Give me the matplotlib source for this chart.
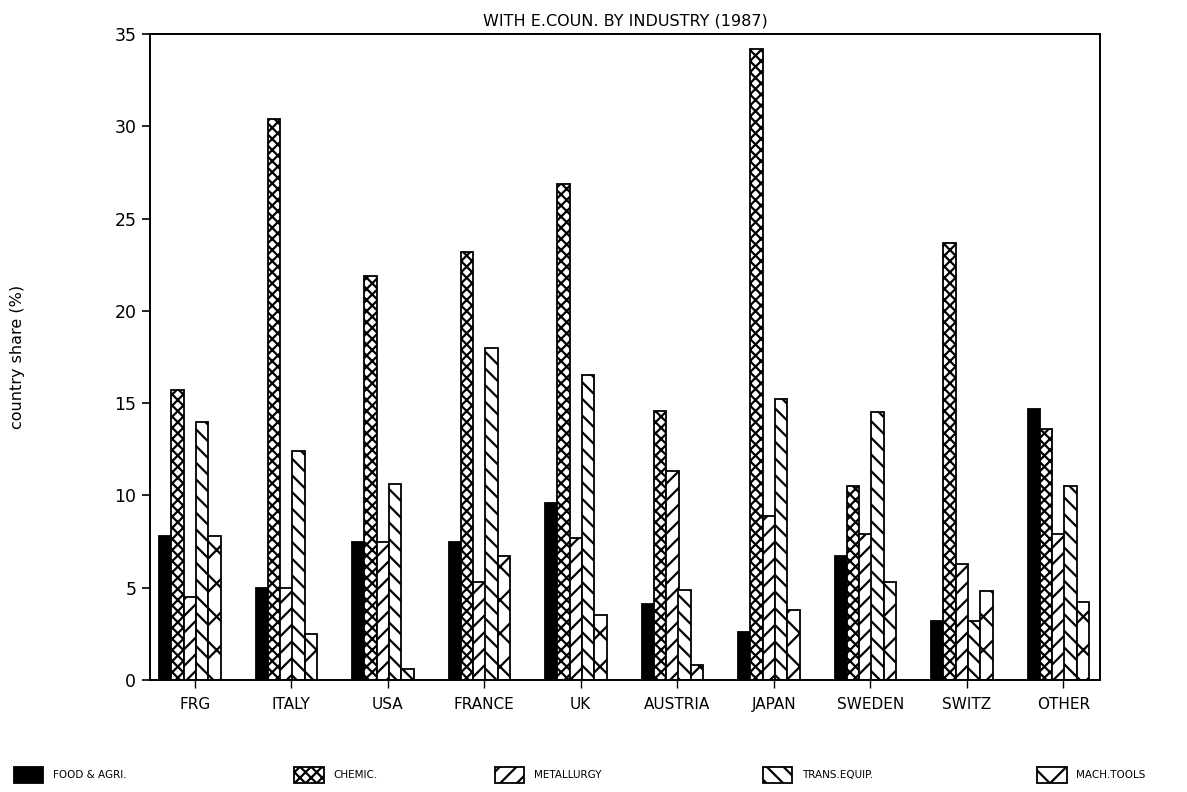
import numpy as np
import matplotlib
matplotlib.use("Agg")
import matplotlib.pyplot as plt

# data
countries = ["FRG", "ITALY", "USA", "FRANCE", "UK", "AUSTRIA", "JAPAN", "SWEDEN", "SWITZ", "OTHER"]
industries = ["FOOD & AGRI.", "CHEMIC.", "METALLURGY", "TRANS.EQUIP.", "MACH.TOOLS"]
food = [7.8, 5.0, 7.5, 7.5, 9.6, 4.1, 2.6, 6.7, 3.2, 14.7]
chemic = [15.7, 30.4, 21.9, 23.2, 26.9, 14.6, 34.2, 10.5, 23.7, 13.6]
metallurgy = [4.5, 5.0, 7.5, 5.3, 7.7, 11.3, 8.9, 7.9, 6.3, 7.9]
trans_equip = [14.0, 12.4, 10.6, 18.0, 16.5, 4.9, 15.2, 14.5, 3.2, 10.5]
mach_tools = [7.8, 2.5, 0.6, 6.7, 3.5, 0.8, 3.8, 5.3, 4.8, 4.2]

series = [food, chemic, metallurgy, trans_equip, mach_tools]
hatches = [None, "xxx", "//", "\\\\", "x"]
faces = ["black", "white", "white", "white", "white"]
# where each legend entry starts (figure fraction)
legend_x = [0.012, 0.248, 0.417, 0.643, 0.874]

plt.rcParams["font.family"] = ["DejaVu Sans"]
plt.rcParams["hatch.linewidth"] = 1.6

fig = plt.figure(figsize=(11.87, 7.92), dpi=100)
ax = fig.add_axes([0.126, 0.1414, 0.801, 0.8156])

x = np.arange(len(countries))
w = 0.13
handles = []
for i, vals in enumerate(series):
    b = ax.bar(x + (i - 2) * 0.127 - 0.05, vals, w, color=faces[i], edgecolor="black",
               hatch=hatches[i], linewidth=1.3, label=industries[i])
    handles.append(b)

ax.set_xlim(-0.467, 9.384)
ax.set_ylim(0, 35)
ax.set_xticks(x)
ax.set_xticklabels(countries, fontsize=11)
ax.set_yticks(range(0, 36, 5))
ax.tick_params(axis="y", labelsize=12.5, length=6, width=1.2, direction="out")
ax.tick_params(axis="x", length=6, width=1.0, direction="out", pad=6)
for s in ax.spines.values():
    s.set_linewidth(1.4)

ax.set_title("WITH E.COUN. BY INDUSTRY (1987)", fontsize=11.5, pad=6)
ax.set_ylabel("country share (%)", fontsize=11.5, labelpad=64)

for h, lab, lx in zip(handles, industries, legend_x):
    fig.legend([h], [lab], loc="center left", bbox_to_anchor=(lx, 0.022),
               frameon=False, fontsize=7.5, handlelength=2.8, handleheight=2.0,
               handletextpad=0.9, borderpad=0, borderaxespad=0)

fig.savefig("out.png", dpi=100)
